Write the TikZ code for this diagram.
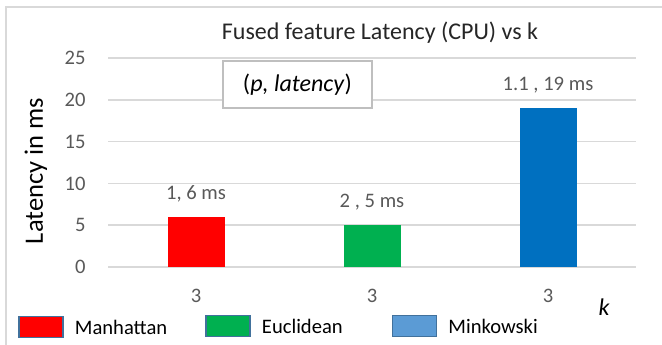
\documentclass[tikz,border=0pt]{standalone}
\usepackage{fontspec}
\setmainfont{Carlito}
\usetikzlibrary{positioning}
\definecolor{gridgray}{HTML}{D9D9D9}
\definecolor{ticktext}{HTML}{595959}
\definecolor{titletext}{HTML}{262626}
\definecolor{manred}{HTML}{FF0000}
\definecolor{eucgreen}{HTML}{00B050}
\definecolor{minblue}{HTML}{0070C0}
\definecolor{legblue}{HTML}{5B9BD5}
\definecolor{legedge}{HTML}{41719C}
\definecolor{boxedge}{HTML}{BFBFBF}
\begin{document}
\begin{tikzpicture}[x=1pt,y=-1pt,node distance=11pt,
		gridline/.style={draw=gridgray,line width=1.5pt},
		ticklabel/.style={text=ticktext,font=\fontsize{20.6}{24}\selectfont},
		barlabel/.style={text=ticktext,font=\fontsize{20.6}{24}\selectfont},
		legbox/.style={draw=legedge,line width=1.5pt,minimum width=44pt,minimum height=21pt,inner sep=0pt},
		legtext/.style={font=\fontsize{20.6}{24}\selectfont,inner sep=0pt}]
	\useasboundingbox (0,0) rectangle (662,345);
	\draw[gridgray,line width=1.2pt] (662,7)--(6,7)--(6,345);
	% grid and y ticks
	\foreach \v in {0,5,...,25}{
		\draw[gridline] (108,{267-8.36*\v})--(636,{267-8.36*\v});
		\node[ticklabel,anchor=east] (tick\v) at (89,{267-8.36*\v}) {\v};
	}
	% bars
	\foreach \cx/\v/\col/\lab/\nm in {196/6/manred/{1, 6 ms}/man,372/5/eucgreen/{2 , 5 ms}/euc,548/19/minblue/{1.1 , 19 ms}/min}{
		\fill[\col] ({\cx-28.5},267) rectangle ({\cx+28.5},{267-8.36*\v});
		\node[barlabel] (lab\nm) at (\cx,{244-8.36*\v}) {\lab};
		\node[ticklabel] (cat\nm) at (\cx,296) {3};
	}
	\node[font=\fontsize{24}{28}\selectfont\itshape] (kname) at (604,307) {k};
	\node[text=titletext,font=\fontsize{24}{28}\selectfont] (title) at (380,33) {Fused feature Latency (CPU) vs k};
	\node[draw=boxedge,line width=1.5pt,fill=white,minimum width=149pt,minimum height=47pt,font=\fontsize{24}{28}\selectfont] (pbox) at (297.5,84.5) {(\textit{p, latency})};
	\node[rotate=90,font=\fontsize{26.5}{30}\selectfont] (ytitle) at (36,171) {Latency in ms};
	% legend
	\node[legbox,fill=manred] (legman) at (41,327) {};
	\node[legtext,right=of legman] (txtman) {Manhattan};
	\node[legbox,fill=eucgreen] (legeuc) at (228,326) {};
	\node[legtext,right=of legeuc] (txteuc) {Euclidean};
	\node[legbox,fill=legblue] (legmin) at (414.5,326) {};
	\node[legtext,right=of legmin] (txtmin) {Minkowski};
\end{tikzpicture}
\end{document}
